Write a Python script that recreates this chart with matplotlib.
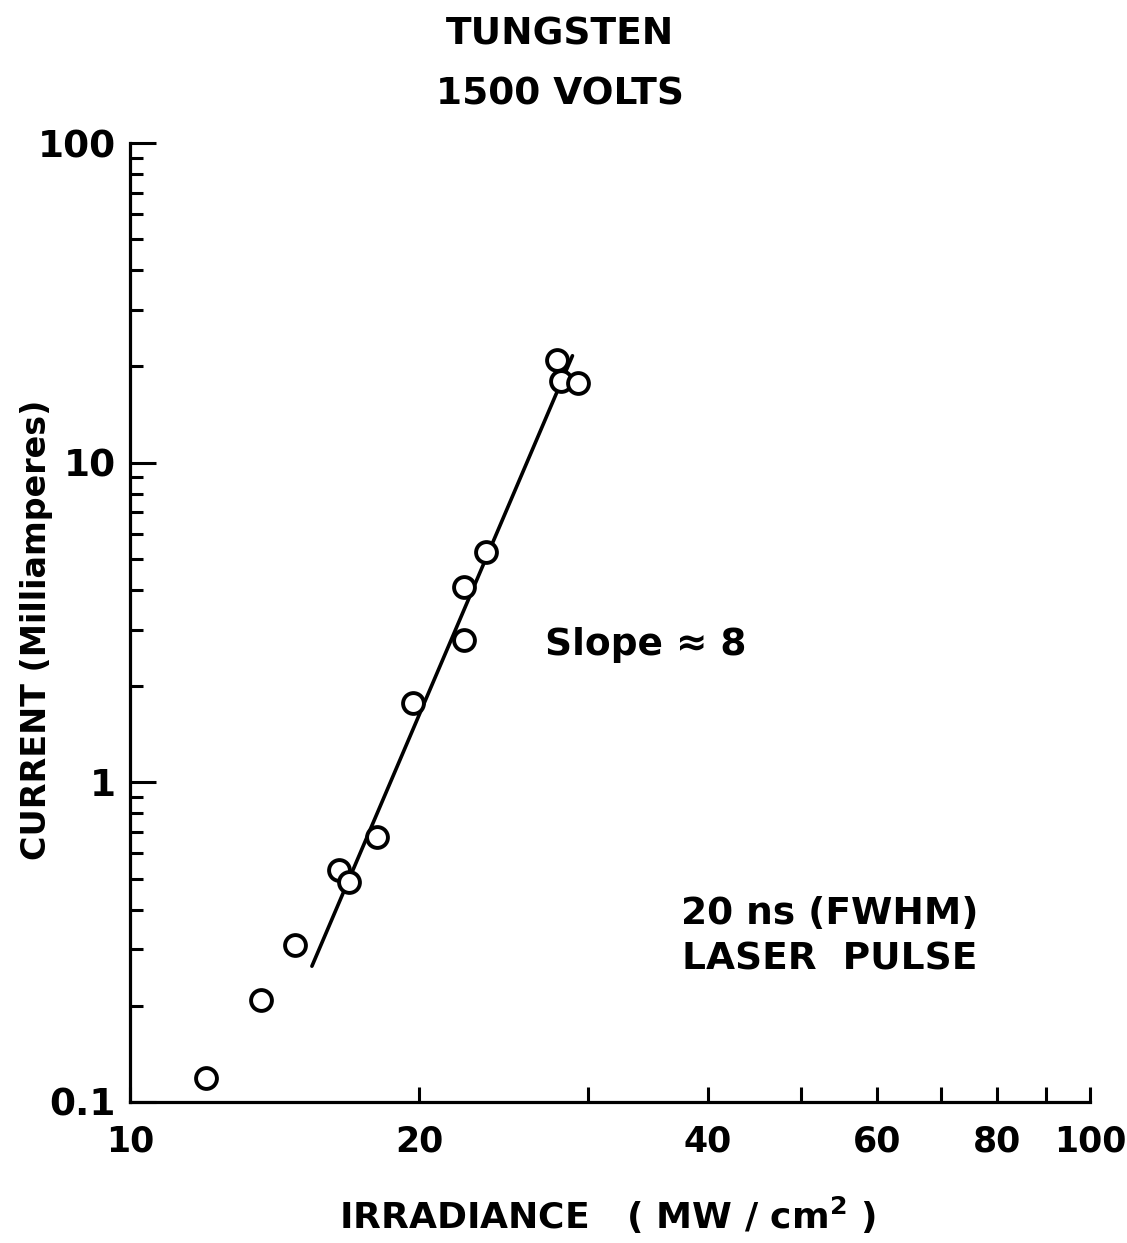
import matplotlib
matplotlib.use("Agg")
import matplotlib.pyplot as plt
from matplotlib.ticker import FixedLocator, NullFormatter, NullLocator

# data
irradiance = [12.0, 13.7, 14.85, 16.5, 16.9, 18.1, 19.7, 22.3, 22.3, 23.5, 27.85, 28.1, 29.3]
current = [0.119, 0.208, 0.309, 0.53, 0.487, 0.673, 1.77, 2.78, 4.07, 5.27, 21.0, 18.0, 17.8]
fit_x = [15.47, 28.9]
fit_y = [0.266, 21.6]

x_ticks = [10, 20, 30, 40, 50, 60, 70, 80, 90, 100]
x_labels = ["10", "20", "", "40", "", "60", "", "80", "", "100"]
y_ticks = [0.1, 1, 10, 100]
y_labels = ["0.1", "1", "10", "100"]

plt.rcParams["font.family"] = ["DejaVu Sans"]
plt.rcParams["font.weight"] = "bold"
plt.rcParams["axes.labelweight"] = "bold"

fig = plt.figure(figsize=(11.27, 12.43), dpi=100)
ax = fig.add_axes([130 / 1127, 141 / 1243, 960 / 1127, 959 / 1243])

ax.plot(fit_x, fit_y, color="black", lw=2.6, solid_capstyle="round", zorder=2)
ax.plot(irradiance, current, ls="none", marker="o", ms=15, mfc="white",
        mec="black", mew=2.8, zorder=3)

ax.set_xscale("log")
ax.set_yscale("log")
ax.set_xlim(10, 100)
ax.set_ylim(0.1, 100)

for side in ("top", "right"):
    ax.spines[side].set_visible(False)
for side in ("left", "bottom"):
    ax.spines[side].set_linewidth(2.3)

ax.xaxis.set_major_locator(FixedLocator(x_ticks))
ax.set_xticklabels(x_labels)
ax.xaxis.set_minor_locator(NullLocator())
ax.xaxis.set_minor_formatter(NullFormatter())
ax.yaxis.set_major_locator(FixedLocator(y_ticks))
ax.set_yticklabels(y_labels)
ax.yaxis.set_minor_formatter(NullFormatter())

ax.tick_params(axis="x", which="major", direction="in", length=11, width=2.2,
               labelsize=25, pad=16)
ax.tick_params(axis="y", which="major", direction="in", length=19, width=2.2,
               labelsize=27, pad=10)
ax.tick_params(axis="y", which="minor", direction="in", length=9, width=2.2)

ax.set_ylabel("CURRENT (Milliamperes)", fontsize=24)
ax.yaxis.set_label_coords(-0.097, 0.492)
ax.yaxis.label.set_verticalalignment("center")

ax.set_xlabel("IRRADIANCE   ( MW / cm$^{\\mathbf{2}}$ )", fontsize=26)
ax.xaxis.set_label_coords(0.497, -0.118)
ax.xaxis.label.set_verticalalignment("center")

fig.text(0.497, 0.972, "TUNGSTEN", ha="center", va="center", fontsize=27)
fig.text(0.497, 0.924, "1500 VOLTS", ha="center", va="center", fontsize=27)

ax.text(0.432, 0.4765, "Slope \u2248 8", transform=ax.transAxes, ha="left",
        va="center", fontsize=27)
ax.text(0.729, 0.172, "20 ns (FWHM)\nLASER  PULSE", transform=ax.transAxes,
        ha="center", va="center", fontsize=27, linespacing=1.35)

fig.savefig("out.png", dpi=100)
